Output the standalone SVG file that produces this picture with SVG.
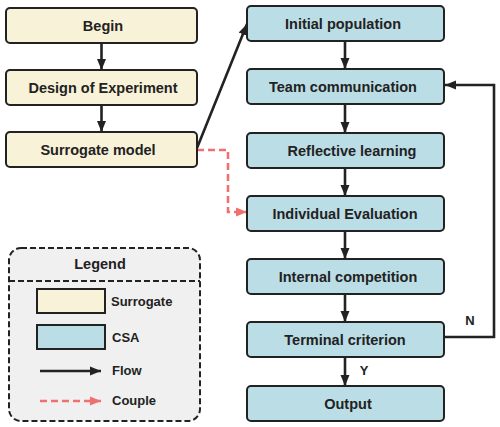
<svg xmlns="http://www.w3.org/2000/svg" width="500" height="427" viewBox="0 0 500 427">
<style>
.box{stroke:#222;stroke-width:2}
.sur{fill:#f8f3d8}
.csa{fill:#badde6}
.t{font-family:"Liberation Sans",Arial,sans-serif;font-weight:bold;font-size:14.5px;fill:#222;text-anchor:middle}
.lt{font-family:"Liberation Sans",Arial,sans-serif;font-weight:bold;font-size:13px;fill:#222}
.flow{stroke:#222;stroke-width:2.6;fill:none}
.couple{stroke:#f07070;stroke-width:2.6;fill:none;stroke-dasharray:7,4}
</style>
<defs>
<marker id="ah" markerUnits="userSpaceOnUse" markerWidth="12" markerHeight="12" viewBox="0 0 12 12" refX="11" refY="6" orient="auto">
<path d="M0,1.5 L11,6 L0,10.5 Z" fill="#222"/>
</marker>
<marker id="ahp" markerUnits="userSpaceOnUse" markerWidth="12" markerHeight="12" viewBox="0 0 12 12" refX="11" refY="6" orient="auto">
<path d="M0,1.5 L11,6 L0,10.5 Z" fill="#f07070"/>
</marker>
</defs>

<g id="connectors">
<line class="flow" x1="101.5" y1="43" x2="101.5" y2="70" marker-end="url(#ah)"/>
<line class="flow" x1="101.5" y1="105" x2="101.5" y2="132" marker-end="url(#ah)"/>
<line class="flow" x1="197" y1="148" x2="247" y2="24" marker-end="url(#ah)"/>
<path class="couple" d="M197,150 H228 V212 H247" marker-end="url(#ahp)"/>
<line class="flow" x1="345" y1="41" x2="345" y2="69" marker-end="url(#ah)"/>
<line class="flow" x1="345" y1="104" x2="345" y2="133" marker-end="url(#ah)"/>
<line class="flow" x1="345" y1="168" x2="345" y2="196" marker-end="url(#ah)"/>
<line class="flow" x1="345" y1="231" x2="345" y2="259" marker-end="url(#ah)"/>
<line class="flow" x1="345" y1="294" x2="345" y2="322" marker-end="url(#ah)"/>
<line class="flow" x1="345" y1="357" x2="345" y2="386" marker-end="url(#ah)"/>
<path class="flow" d="M444,337 H494 V85 H445" marker-end="url(#ah)"/>
<text class="lt" x="470" y="325" text-anchor="middle">N</text>
<text class="lt" x="364" y="375" text-anchor="middle">Y</text>
</g>

<g id="begin"><rect class="box sur" x="6" y="8" width="191" height="35" rx="4"/><text class="t" x="103" y="30.5">Begin</text></g>
<g id="doe"><rect class="box sur" x="6" y="70" width="191" height="35" rx="4"/><text class="t" x="103" y="92.5">Design of Experiment</text></g>
<g id="surrogate"><rect class="box sur" x="6" y="132" width="191" height="35" rx="4"/><text class="t" x="98" y="154.5">Surrogate model</text></g>

<g id="initial"><rect class="box csa" x="247" y="6" width="197" height="35" rx="4"/><text class="t" x="343" y="28.5">Initial population</text></g>
<g id="team"><rect class="box csa" x="247" y="69" width="197" height="35" rx="4"/><text class="t" x="343" y="91.5">Team communication</text></g>
<g id="reflective"><rect class="box csa" x="247" y="133" width="197" height="35" rx="4"/><text class="t" x="352" y="155.5">Reflective learning</text></g>
<g id="individual"><rect class="box csa" x="247" y="196" width="197" height="35" rx="4"/><text class="t" x="345" y="218.5">Individual Evaluation</text></g>
<g id="internal"><rect class="box csa" x="247" y="259" width="197" height="35" rx="4"/><text class="t" x="348" y="281.5">Internal competition</text></g>
<g id="terminal"><rect class="box csa" x="247" y="322" width="197" height="35" rx="4"/><text class="t" x="345" y="344.5">Terminal criterion</text></g>
<g id="output"><rect class="box csa" x="247" y="386" width="197" height="35" rx="4"/><text class="t" x="348" y="408.5">Output</text></g>

<g id="legend">
<rect x="9" y="248" width="191" height="173" rx="12" fill="#f0f0f0" stroke="#222" stroke-width="2" stroke-dasharray="6,3"/>
<line x1="9" y1="281" x2="200" y2="281" stroke="#222" stroke-width="2" stroke-dasharray="6,3"/>
<text class="t" x="100" y="269">Legend</text>
<rect class="box sur" x="37" y="289" width="68" height="24"/>
<text class="lt" x="111" y="306">Surrogate</text>
<rect class="box csa" x="37" y="325" width="68" height="24"/>
<text class="lt" x="112" y="342">CSA</text>
<line class="flow" x1="40" y1="371" x2="101" y2="371" marker-end="url(#ah)"/>
<text class="lt" x="112" y="375">Flow</text>
<line class="couple" x1="40" y1="401" x2="101" y2="401" marker-end="url(#ahp)"/>
<text class="lt" x="112" y="405">Couple</text>
</g>
</svg>
